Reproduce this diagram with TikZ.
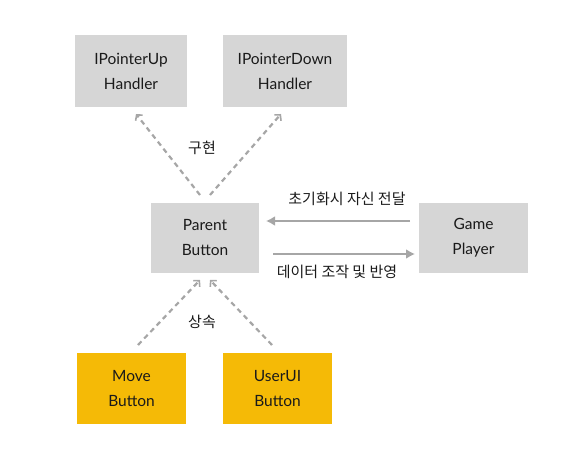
\documentclass[tikz,border=0pt]{standalone}
\usepackage{fontspec}
\setmainfont{Lato}
\newfontfamily\kr{Noto Sans CJK KR}
\usetikzlibrary{arrows.meta}
\definecolor{boxgray}{HTML}{D6D6D6}
\definecolor{boxyellow}{HTML}{F5BA06}
\definecolor{arrgray}{HTML}{A6A6A6}
\definecolor{txt}{HTML}{1A1A1A}
\begin{document}
\begin{tikzpicture}[x=1bp,y=-1bp,
  graybox/.style={fill=boxgray,draw=none,minimum width=#1,minimum height=72bp,align=center,text=txt,font=\fontsize{15.5bp}{25bp}\selectfont,inner sep=0pt},
  yelbox/.style={graybox=#1,fill=boxyellow},
  dasharrow/.style={draw=arrgray,line width=2.2bp,dash pattern=on 5bp off 4bp,-{Straight Barb[length=4bp,width=9bp,line width=1.6bp]}},
  solidarrow/.style={draw=arrgray,line width=2.6bp,-{Latex[length=9bp,width=10bp]}},
  lbl/.style={text=txt,font=\kr\fontsize{15bp}{17bp}\selectfont,inner sep=0pt}]
\useasboundingbox (0,0) rectangle (583,470);
\node[graybox=112bp] (up) at (131,71.5) {IPointerUp\\Handler};
\node[graybox=124bp] (down) at (285,71.5) {IPointerDown\\Handler};
\node[graybox=108bp,minimum height=70bp] (parent) at (205,238) {Parent\\Button};
\node[graybox=109bp,minimum height=70bp] (game) at (473.5,238) {Game\\Player};
\node[yelbox=109bp,minimum height=71bp] (move) at (131.5,388.5) {Move\\Button};
\node[yelbox=109bp,minimum height=71bp] (userui) at (277.5,388.5) {UserUI\\Button};
\coordinate (p1) at (200,195);
\coordinate (p2) at (210,195);
\coordinate (p3) at (200,280);
\coordinate (p4) at (210,280);
\coordinate (u1) at (136,114);
\coordinate (d1) at (281,114);
\coordinate (m1) at (138,345);
\coordinate (r1) at (272,345);
\draw[dasharrow] (p1) -- (u1);
\draw[dasharrow] (p2) -- (d1);
\draw[dasharrow] (m1) -- (p3);
\draw[dasharrow] (r1) -- (p4);
\coordinate (g1) at (410,221);
\coordinate (pa1) at (266,221);
\coordinate (pa2) at (273,254);
\coordinate (g2) at (415,254);
\draw[solidarrow] (g1) -- (pa1);
\draw[solidarrow] (pa2) -- (g2);
\node[lbl] (impl) at (202,148) {구현};
\node[lbl] (inh) at (202,322) {상속};
\node[lbl] (init) at (347,199) {초기화시 자신 전달};
\node[lbl] (data) at (337,272) {데이터 조작 및 반영};
\end{tikzpicture}
\end{document}
